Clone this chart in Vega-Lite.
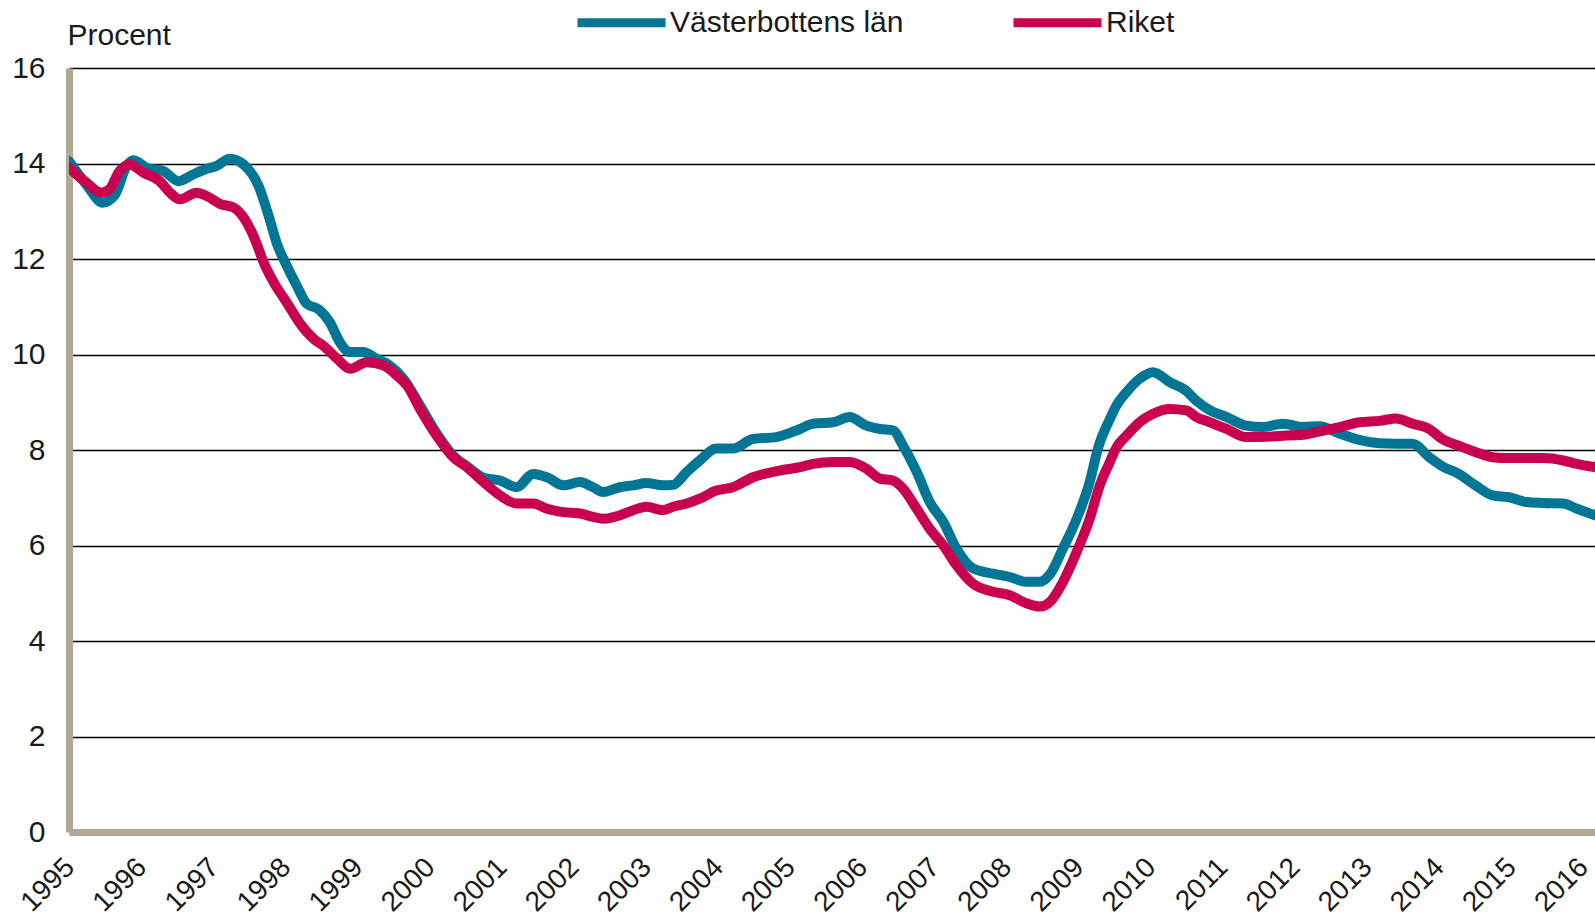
{
  "$schema": "https://vega.github.io/schema/vega-lite/v6.json",
  "width": 1526,
  "height": 764,
  "autosize": {"type": "none"},
  "padding": {"left": 69, "top": 68, "right": 0, "bottom": 86},
  "background": "white",
  "config": {"view": {"stroke": null}, "font": "Liberation Sans"},
  "data": {
    "values": [
      {"series": "Västerbottens län", "year": 1995.0, "value": 14.05},
      {"series": "Västerbottens län", "year": 1995.24, "value": 13.56},
      {"series": "Västerbottens län", "year": 1995.47, "value": 13.18},
      {"series": "Västerbottens län", "year": 1995.64, "value": 13.35},
      {"series": "Västerbottens län", "year": 1995.8, "value": 13.95},
      {"series": "Västerbottens län", "year": 1995.89, "value": 14.07},
      {"series": "Västerbottens län", "year": 1996.08, "value": 13.91},
      {"series": "Västerbottens län", "year": 1996.31, "value": 13.84},
      {"series": "Västerbottens län", "year": 1996.52, "value": 13.63},
      {"series": "Västerbottens län", "year": 1996.72, "value": 13.77},
      {"series": "Västerbottens län", "year": 1996.91, "value": 13.89},
      {"series": "Västerbottens län", "year": 1997.05, "value": 13.95},
      {"series": "Västerbottens län", "year": 1997.23, "value": 14.1},
      {"series": "Västerbottens län", "year": 1997.42, "value": 13.98},
      {"series": "Västerbottens län", "year": 1997.63, "value": 13.53},
      {"series": "Västerbottens län", "year": 1997.77, "value": 12.9},
      {"series": "Västerbottens län", "year": 1997.88, "value": 12.34},
      {"series": "Västerbottens län", "year": 1998.02, "value": 11.86},
      {"series": "Västerbottens län", "year": 1998.16, "value": 11.44},
      {"series": "Västerbottens län", "year": 1998.3, "value": 11.06},
      {"series": "Västerbottens län", "year": 1998.46, "value": 10.95},
      {"series": "Västerbottens län", "year": 1998.62, "value": 10.67},
      {"series": "Västerbottens län", "year": 1998.76, "value": 10.25},
      {"series": "Västerbottens län", "year": 1998.9, "value": 10.05},
      {"series": "Västerbottens län", "year": 1999.08, "value": 10.05},
      {"series": "Västerbottens län", "year": 1999.27, "value": 9.91},
      {"series": "Västerbottens län", "year": 1999.45, "value": 9.77},
      {"series": "Västerbottens län", "year": 1999.64, "value": 9.49},
      {"series": "Västerbottens län", "year": 1999.87, "value": 8.93},
      {"series": "Västerbottens län", "year": 2000.09, "value": 8.37},
      {"series": "Västerbottens län", "year": 2000.33, "value": 7.88},
      {"series": "Västerbottens län", "year": 2000.52, "value": 7.66},
      {"series": "Västerbottens län", "year": 2000.75, "value": 7.42},
      {"series": "Västerbottens län", "year": 2000.98, "value": 7.36},
      {"series": "Västerbottens län", "year": 2001.21, "value": 7.22},
      {"series": "Västerbottens län", "year": 2001.44, "value": 7.5},
      {"series": "Västerbottens län", "year": 2001.63, "value": 7.43},
      {"series": "Västerbottens län", "year": 2001.86, "value": 7.26},
      {"series": "Västerbottens län", "year": 2002.09, "value": 7.33},
      {"series": "Västerbottens län", "year": 2002.27, "value": 7.22},
      {"series": "Västerbottens län", "year": 2002.41, "value": 7.12},
      {"series": "Västerbottens län", "year": 2002.64, "value": 7.22},
      {"series": "Västerbottens län", "year": 2002.83, "value": 7.26},
      {"series": "Västerbottens län", "year": 2003.01, "value": 7.31},
      {"series": "Västerbottens län", "year": 2003.24, "value": 7.26},
      {"series": "Västerbottens län", "year": 2003.38, "value": 7.27},
      {"series": "Västerbottens län", "year": 2003.57, "value": 7.54},
      {"series": "Västerbottens län", "year": 2003.75, "value": 7.78},
      {"series": "Västerbottens län", "year": 2003.98, "value": 8.03},
      {"series": "Västerbottens län", "year": 2004.21, "value": 8.03},
      {"series": "Västerbottens län", "year": 2004.49, "value": 8.23},
      {"series": "Västerbottens län", "year": 2004.81, "value": 8.27},
      {"series": "Västerbottens län", "year": 2005.14, "value": 8.44},
      {"series": "Västerbottens län", "year": 2005.32, "value": 8.55},
      {"series": "Västerbottens län", "year": 2005.6, "value": 8.58},
      {"series": "Västerbottens län", "year": 2005.83, "value": 8.69},
      {"series": "Västerbottens län", "year": 2006.06, "value": 8.51},
      {"series": "Västerbottens län", "year": 2006.25, "value": 8.44},
      {"series": "Västerbottens län", "year": 2006.43, "value": 8.41},
      {"series": "Västerbottens län", "year": 2006.57, "value": 8.09},
      {"series": "Västerbottens län", "year": 2006.76, "value": 7.54},
      {"series": "Västerbottens län", "year": 2006.94, "value": 6.91},
      {"series": "Västerbottens län", "year": 2007.13, "value": 6.49},
      {"series": "Västerbottens län", "year": 2007.31, "value": 5.94},
      {"series": "Västerbottens län", "year": 2007.54, "value": 5.52},
      {"series": "Västerbottens län", "year": 2007.82, "value": 5.41},
      {"series": "Västerbottens län", "year": 2008.05, "value": 5.34},
      {"series": "Västerbottens län", "year": 2008.28, "value": 5.24},
      {"series": "Västerbottens län", "year": 2008.47, "value": 5.24},
      {"series": "Västerbottens län", "year": 2008.61, "value": 5.4},
      {"series": "Västerbottens län", "year": 2008.79, "value": 5.94},
      {"series": "Västerbottens län", "year": 2008.98, "value": 6.56},
      {"series": "Västerbottens län", "year": 2009.16, "value": 7.33},
      {"series": "Västerbottens län", "year": 2009.28, "value": 8.06},
      {"series": "Västerbottens län", "year": 2009.44, "value": 8.65},
      {"series": "Västerbottens län", "year": 2009.53, "value": 8.93},
      {"series": "Västerbottens län", "year": 2009.67, "value": 9.21},
      {"series": "Västerbottens län", "year": 2009.85, "value": 9.49},
      {"series": "Västerbottens län", "year": 2010.04, "value": 9.63},
      {"series": "Västerbottens län", "year": 2010.27, "value": 9.42},
      {"series": "Västerbottens län", "year": 2010.5, "value": 9.24},
      {"series": "Västerbottens län", "year": 2010.64, "value": 9.03},
      {"series": "Västerbottens län", "year": 2010.83, "value": 8.83},
      {"series": "Västerbottens län", "year": 2011.06, "value": 8.69},
      {"series": "Västerbottens län", "year": 2011.33, "value": 8.51},
      {"series": "Västerbottens län", "year": 2011.56, "value": 8.48},
      {"series": "Västerbottens län", "year": 2011.84, "value": 8.55},
      {"series": "Västerbottens län", "year": 2012.12, "value": 8.48},
      {"series": "Västerbottens län", "year": 2012.35, "value": 8.5},
      {"series": "Västerbottens län", "year": 2012.63, "value": 8.34},
      {"series": "Västerbottens län", "year": 2012.9, "value": 8.21},
      {"series": "Västerbottens län", "year": 2013.18, "value": 8.14},
      {"series": "Västerbottens län", "year": 2013.41, "value": 8.13},
      {"series": "Västerbottens län", "year": 2013.64, "value": 8.13},
      {"series": "Västerbottens län", "year": 2013.87, "value": 7.85},
      {"series": "Västerbottens län", "year": 2014.05, "value": 7.66},
      {"series": "Västerbottens län", "year": 2014.28, "value": 7.5},
      {"series": "Västerbottens län", "year": 2014.51, "value": 7.26},
      {"series": "Västerbottens län", "year": 2014.75, "value": 7.05},
      {"series": "Västerbottens län", "year": 2014.98, "value": 7.01},
      {"series": "Västerbottens län", "year": 2015.22, "value": 6.91},
      {"series": "Västerbottens län", "year": 2015.45, "value": 6.89},
      {"series": "Västerbottens län", "year": 2015.73, "value": 6.88},
      {"series": "Västerbottens län", "year": 2015.92, "value": 6.77},
      {"series": "Västerbottens län", "year": 2016.17, "value": 6.63},
      {"series": "Riket", "year": 1995.0, "value": 13.91},
      {"series": "Riket", "year": 1995.24, "value": 13.6},
      {"series": "Riket", "year": 1995.45, "value": 13.39},
      {"series": "Riket", "year": 1995.56, "value": 13.46},
      {"series": "Riket", "year": 1995.7, "value": 13.84},
      {"series": "Riket", "year": 1995.84, "value": 13.98},
      {"series": "Riket", "year": 1996.03, "value": 13.81},
      {"series": "Riket", "year": 1996.26, "value": 13.63},
      {"series": "Riket", "year": 1996.4, "value": 13.39},
      {"series": "Riket", "year": 1996.54, "value": 13.25},
      {"series": "Riket", "year": 1996.77, "value": 13.39},
      {"series": "Riket", "year": 1996.91, "value": 13.32},
      {"series": "Riket", "year": 1997.1, "value": 13.15},
      {"series": "Riket", "year": 1997.28, "value": 13.08},
      {"series": "Riket", "year": 1997.44, "value": 12.83},
      {"series": "Riket", "year": 1997.58, "value": 12.41},
      {"series": "Riket", "year": 1997.7, "value": 11.93},
      {"series": "Riket", "year": 1997.84, "value": 11.51},
      {"series": "Riket", "year": 1998.02, "value": 11.09},
      {"series": "Riket", "year": 1998.21, "value": 10.64},
      {"series": "Riket", "year": 1998.4, "value": 10.32},
      {"series": "Riket", "year": 1998.53, "value": 10.18},
      {"series": "Riket", "year": 1998.72, "value": 9.91},
      {"series": "Riket", "year": 1998.9, "value": 9.7},
      {"series": "Riket", "year": 1999.13, "value": 9.84},
      {"series": "Riket", "year": 1999.36, "value": 9.77},
      {"series": "Riket", "year": 1999.55, "value": 9.56},
      {"series": "Riket", "year": 1999.69, "value": 9.35},
      {"series": "Riket", "year": 1999.87, "value": 8.86},
      {"series": "Riket", "year": 2000.1, "value": 8.3},
      {"series": "Riket", "year": 2000.33, "value": 7.85},
      {"series": "Riket", "year": 2000.52, "value": 7.64},
      {"series": "Riket", "year": 2000.75, "value": 7.33},
      {"series": "Riket", "year": 2000.98, "value": 7.05},
      {"series": "Riket", "year": 2001.21, "value": 6.88},
      {"series": "Riket", "year": 2001.44, "value": 6.88},
      {"series": "Riket", "year": 2001.63, "value": 6.77},
      {"series": "Riket", "year": 2001.86, "value": 6.7},
      {"series": "Riket", "year": 2002.09, "value": 6.67},
      {"series": "Riket", "year": 2002.27, "value": 6.6},
      {"series": "Riket", "year": 2002.41, "value": 6.56},
      {"series": "Riket", "year": 2002.64, "value": 6.63},
      {"series": "Riket", "year": 2002.83, "value": 6.74},
      {"series": "Riket", "year": 2003.01, "value": 6.81},
      {"series": "Riket", "year": 2003.24, "value": 6.74},
      {"series": "Riket", "year": 2003.38, "value": 6.81},
      {"series": "Riket", "year": 2003.57, "value": 6.88},
      {"series": "Riket", "year": 2003.75, "value": 6.98},
      {"series": "Riket", "year": 2003.98, "value": 7.15},
      {"series": "Riket", "year": 2004.21, "value": 7.22},
      {"series": "Riket", "year": 2004.49, "value": 7.43},
      {"series": "Riket", "year": 2004.86, "value": 7.57},
      {"series": "Riket", "year": 2005.14, "value": 7.64},
      {"series": "Riket", "year": 2005.32, "value": 7.71},
      {"series": "Riket", "year": 2005.6, "value": 7.75},
      {"series": "Riket", "year": 2005.83, "value": 7.75},
      {"series": "Riket", "year": 2006.06, "value": 7.61},
      {"series": "Riket", "year": 2006.25, "value": 7.4},
      {"series": "Riket", "year": 2006.43, "value": 7.36},
      {"series": "Riket", "year": 2006.57, "value": 7.19},
      {"series": "Riket", "year": 2006.76, "value": 6.77},
      {"series": "Riket", "year": 2006.94, "value": 6.35},
      {"series": "Riket", "year": 2007.13, "value": 6.0},
      {"series": "Riket", "year": 2007.31, "value": 5.59},
      {"series": "Riket", "year": 2007.54, "value": 5.2},
      {"series": "Riket", "year": 2007.82, "value": 5.03},
      {"series": "Riket", "year": 2008.05, "value": 4.96},
      {"series": "Riket", "year": 2008.28, "value": 4.79},
      {"series": "Riket", "year": 2008.47, "value": 4.72},
      {"series": "Riket", "year": 2008.61, "value": 4.82},
      {"series": "Riket", "year": 2008.79, "value": 5.24},
      {"series": "Riket", "year": 2008.98, "value": 5.87},
      {"series": "Riket", "year": 2009.16, "value": 6.56},
      {"series": "Riket", "year": 2009.3, "value": 7.26},
      {"series": "Riket", "year": 2009.44, "value": 7.75},
      {"series": "Riket", "year": 2009.53, "value": 8.05},
      {"series": "Riket", "year": 2009.67, "value": 8.3},
      {"series": "Riket", "year": 2009.85, "value": 8.58},
      {"series": "Riket", "year": 2010.04, "value": 8.76},
      {"series": "Riket", "year": 2010.27, "value": 8.86},
      {"series": "Riket", "year": 2010.5, "value": 8.83},
      {"series": "Riket", "year": 2010.64, "value": 8.69},
      {"series": "Riket", "year": 2010.83, "value": 8.58},
      {"series": "Riket", "year": 2011.06, "value": 8.44},
      {"series": "Riket", "year": 2011.33, "value": 8.27},
      {"series": "Riket", "year": 2011.56, "value": 8.27},
      {"series": "Riket", "year": 2011.84, "value": 8.3},
      {"series": "Riket", "year": 2012.12, "value": 8.32},
      {"series": "Riket", "year": 2012.35, "value": 8.39},
      {"series": "Riket", "year": 2012.63, "value": 8.48},
      {"series": "Riket", "year": 2012.9, "value": 8.58},
      {"series": "Riket", "year": 2013.18, "value": 8.61},
      {"series": "Riket", "year": 2013.41, "value": 8.66},
      {"series": "Riket", "year": 2013.64, "value": 8.55},
      {"series": "Riket", "year": 2013.87, "value": 8.44},
      {"series": "Riket", "year": 2014.05, "value": 8.23},
      {"series": "Riket", "year": 2014.28, "value": 8.09},
      {"series": "Riket", "year": 2014.51, "value": 7.96},
      {"series": "Riket", "year": 2014.75, "value": 7.85},
      {"series": "Riket", "year": 2014.98, "value": 7.83},
      {"series": "Riket", "year": 2015.22, "value": 7.83},
      {"series": "Riket", "year": 2015.45, "value": 7.83},
      {"series": "Riket", "year": 2015.73, "value": 7.78},
      {"series": "Riket", "year": 2015.92, "value": 7.71},
      {"series": "Riket", "year": 2016.17, "value": 7.64}
    ]
  },
  "mark": {"type": "line", "strokeWidth": 10, "interpolate": "monotone", "strokeCap": "round", "strokeJoin": "round", "clip": true},
  "encoding": {
    "x": {
      "field": "year", "type": "quantitative",
      "scale": {"domain": [1995, 2016.17], "nice": false, "zero": false},
      "axis": {
        "values": [1995,1996,1997,1998,1999,2000,2001,2002,2003,2004,2005,2006,2007,2008,2009,2010,2011,2012,2013,2014,2015,2016],
        "format": "d", "labelAngle": -45, "labelFontSize": 28, "labelColor": "#1a1a1a",
        "grid": false, "ticks": false, "domainColor": "#B3A898", "domainWidth": 7,
        "labelPadding": 21, "labelOffset": -9, "title": null, "labelFlush": false, "labelOverlap": false, "labelBound": false
      }
    },
    "y": {
      "field": "value", "type": "quantitative",
      "scale": {"domain": [0, 16], "nice": false},
      "axis": {
        "values": [0,2,4,6,8,10,12,14,16], "grid": true, "gridColor": "#000000", "gridWidth": 1.5,
        "ticks": false, "domainColor": "#B3A898", "domainWidth": 7,
        "labelFontSize": 30, "labelColor": "#1a1a1a", "labelPadding": 24,
        "title": "Procent", "titleAngle": 0, "titleAlign": "left", "titleBaseline": "alphabetic",
        "titleX": -2, "titleY": -24, "titleFontSize": 30, "titleFontWeight": "normal", "titleColor": "#1a1a1a"
      }
    },
    "color": {
      "field": "series", "type": "nominal",
      "scale": {"domain": ["Västerbottens län", "Riket"], "range": ["#007696", "#C8004F"]},
      "legend": {
        "orient": "none", "legendX": 504, "legendY": -94, "direction": "horizontal", "title": null,
        "symbolType": "stroke", "symbolSize": 7744, "symbolStrokeWidth": 9,
        "labelFontSize": 30, "labelColor": "#1a1a1a", "labelOffset": 0, "columnPadding": 91,
        "labelLimit": 400
      }
    }
  }
}
